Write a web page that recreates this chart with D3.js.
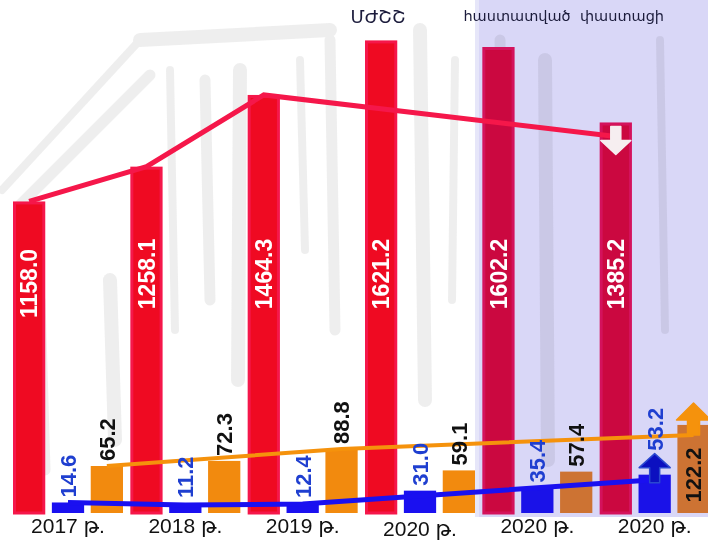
<html>
<head>
  <meta charset="utf-8">
  <title>Budget chart</title>
  <style>
    body { margin: 0; background: #fff; }
    text { font-family: "Liberation Sans", Arial, "DejaVu Sans", sans-serif; }
  </style>
  <script src="https://d3js.org/d3.v7.min.js"></script>
</head>
<body>
  <div id="chart"></div>
  <script>
{
    // data
    var yearLabels = ["2017 թ.", "2018 թ.", "2019 թ.", "2020 թ.", "2020 թ.", "2020 թ."];
    var topLabels = ["", "", "", "ՄԺՇՇ", "հաստատված", "փաստացի"];
    var redValues = [1158.0, 1258.1, 1464.3, 1621.2, 1602.2, 1385.2];
    var blueValues = [14.6, 11.2, 12.4, 31.0, 35.4, 53.2];
    var orangeValues = [65.2, 72.3, 88.8, 59.1, 57.4, 122.2];
    // which groups each trend line joins
    var redLine = [0, 1, 2, 5];
    var blueLine = [0, 1, 2, 5];
    var orangeLine = [0, 2, 5];

    var width = 708, height = 540, base = 513;

    var svg = d3.select("#chart").append("svg")
        .attr("width", width)
        .attr("height", height);

    // scales
    var x0 = d3.scaleBand().domain(d3.range(6)).range([13, 717]).paddingInner(0);
    var x1 = d3.scaleBand().domain(["red", "blue", "orange"]).range([0, 110]).paddingInner(0.17);
    var bw = x1.bandwidth();
    var yR = d3.scaleLinear().domain([262, 1700]).range([base, 13]);
    var yS = d3.scaleLinear().domain([0, 130]).range([base, base - 93.7]);

    function cx(i, s) { return x0(i) + x1(s) + bw / 2; }

    // faint background sketch
    var bg = svg.append("g")
        .attr("stroke", "#e8e8e8")
        .attr("opacity", 0.7)
        .attr("fill", "none")
        .attr("stroke-linecap", "round");
    var sketch = [
      [[2, 190], [140, 40]], [[20, 205], [150, 75]], [[140, 40], [330, 30]],
      [[170, 70], [175, 330]], [[205, 80], [210, 300]],
      [[240, 70], [238, 380]], [[300, 60], [305, 250]], [[330, 40], [335, 330]],
      [[420, 30], [425, 400]], [[455, 60], [452, 300]], [[500, 40], [505, 420]],
      [[545, 60], [548, 460]], [[660, 40], [665, 330]],
      [[40, 300], [45, 470]], [[110, 280], [115, 440]]
    ];
    sketch.forEach(function(s, k) {
      bg.append("line")
          .attr("x1", s[0][0]).attr("y1", s[0][1])
          .attr("x2", s[1][0]).attr("y2", s[1][1])
          .attr("stroke-width", 8 + (k % 3) * 3);
    });

    // shaded region for 2020 budget / actual
    svg.append("rect")
        .attr("x", 475).attr("y", 0)
        .attr("width", width - 475).attr("height", 517)
        .attr("fill", "#d9d7f7")
        .style("mix-blend-mode", "multiply");
    svg.append("rect")
        .attr("x", 475).attr("y", 0)
        .attr("width", 4).attr("height", 517)
        .attr("fill", "#e6e6f9");

    function shaded(i) { return i >= 4; }

    // red bars
    svg.selectAll(".red").data(redValues).enter().append("rect")
        .attr("class", "red")
        .attr("x", function(d, i) { return x0(i) + x1("red") + 1.5; })
        .attr("y", function(d) { return yR(d) + 1.5; })
        .attr("width", bw - 3)
        .attr("height", function(d) { return base - yR(d) - 1.5; })
        .attr("fill", function(d, i) { return shaded(i) ? "#cb0840" : "#ef0a22"; })
        .attr("stroke", function(d, i) { return shaded(i) ? "#d4125c" : "#f5174a"; })
        .attr("stroke-width", 3);

    // blue bars
    svg.selectAll(".blue").data(blueValues).enter().append("rect")
        .attr("class", "blue")
        .attr("x", function(d, i) { return x0(i) + x1("blue"); })
        .attr("y", function(d) { return yS(d); })
        .attr("width", bw)
        .attr("height", function(d) { return base - yS(d); })
        .attr("fill", function(d, i) { return shaded(i) ? "#1a12e8" : "#1a10f0"; });

    // orange bars
    svg.selectAll(".orange").data(orangeValues).enter().append("rect")
        .attr("class", "orange")
        .attr("x", function(d, i) { return x0(i) + x1("orange"); })
        .attr("y", function(d) { return yS(d); })
        .attr("width", bw)
        .attr("height", function(d) { return base - yS(d); })
        .attr("fill", function(d, i) { return shaded(i) ? "#cd7333" : "#f28a0e"; });

    // trend lines
    var line = d3.line().x(function(d) { return d[0]; }).y(function(d) { return d[1]; });
    function addLine(idx, vals, s, scale, color, w, lastOff) {
      var pts = idx.map(function(i, k) {
        return [cx(i, s), scale(vals[i]) + (k === idx.length - 1 ? lastOff : 0)];
      });
      svg.append("path")
          .attr("d", line(pts))
          .attr("fill", "none")
          .attr("stroke", color)
          .attr("stroke-width", w);
    }
    addLine(redLine, redValues, "red", yR, "#f5174a", 5, 14);
    addLine(blueLine, blueValues, "blue", yS, "#1a10f0", 5, 5);
    addLine(orangeLine, orangeValues, "orange", yS, "#f5920c", 4, 10);

    // arrows on the last group
    function arrow(x, tip, baseY, tail, headW, shaftW, fill, stroke) {
      var p = [
        [x, tip], [x + headW / 2, baseY], [x + shaftW / 2, baseY],
        [x + shaftW / 2, tail], [x - shaftW / 2, tail], [x - shaftW / 2, baseY],
        [x - headW / 2, baseY]
      ];
      svg.append("path")
          .attr("d", "M" + p.join("L") + "Z")
          .attr("fill", fill)
          .attr("stroke", stroke || fill)
          .attr("stroke-width", 1.5)
          .attr("stroke-linejoin", "round");
    }
    var tR = yR(redValues[5]), tB = yS(blueValues[5]), tO = yS(orangeValues[5]);
    arrow(cx(5, "red"), tR + 32, tR + 18, tR + 4, 30, 10, "#f6eef0");
    arrow(cx(5, "blue"), tB - 21, tB - 7, tB + 8, 31, 10, "#0c10c0", "#2a48d0");
    arrow(cx(5, "orange"), tO - 22, tO - 5, tO + 10, 34, 12, "#f5920c");

    // value labels
    function vlabel(x, y, txt, color, anchor, size) {
      svg.append("text")
          .attr("transform", "translate(" + x + "," + y + ") rotate(-90)")
          .attr("dy", "0.36em")
          .attr("text-anchor", anchor)
          .attr("fill", color)
          .style("font-size", size + "px")
          .style("font-weight", "bold")
          .text(txt);
    }
    redValues.forEach(function(v, i) {
      vlabel(cx(i, "red"), Math.max(yR(v) + 82, 274), v.toFixed(1), "#fff", "middle", 23);
    });
    blueValues.forEach(function(v, i) {
      var y = i === 5 ? yS(v) - 24 : Math.min(yS(v) - 5, 498);
      vlabel(cx(i, "blue"), y, v.toFixed(1), "#1f3fd0", "start", 22);
    });
    orangeValues.forEach(function(v, i) {
      if (v > 100) {
        vlabel(cx(i, "orange"), yS(v) + 50, v.toFixed(1), "#111", "middle", 22);
      } else {
        vlabel(cx(i, "orange"), yS(v) - 5, v.toFixed(1), "#111", "start", 22);
      }
    });

    // category labels under the bars
    svg.selectAll(".year").data(yearLabels).enter().append("text")
        .attr("class", "year")
        .attr("x", function(d, i) { return cx(i, "blue"); })
        .attr("y", function(d, i) { return i === 3 ? 536 : 533; })
        .attr("text-anchor", "middle")
        .style("font-size", "21px")
        .attr("fill", "#111")
        .text(function(d) { return d; });

    // labels above the 2020 groups
    var topX = [0, 0, 0, 378, 517, 622];
    var topSize = [0, 0, 0, 18, 14.5, 14.5];
    svg.selectAll(".top").data(topLabels).enter().append("text")
        .attr("class", "top")
        .attr("x", function(d, i) { return topX[i]; })
        .attr("y", function(d, i) { return i === 3 ? 23 : 21; })
        .attr("text-anchor", "middle")
        .style("font-size", function(d, i) { return topSize[i] + "px"; })
        .attr("fill", "#1c1c3c")
        .text(function(d) { return d; });
}
  </script>
</body>
</html>
